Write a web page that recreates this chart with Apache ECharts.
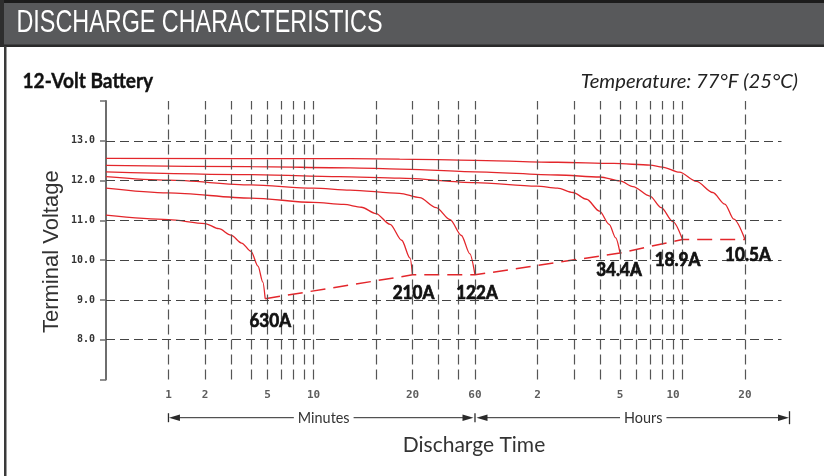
<!DOCTYPE html>
<html><head><meta charset="utf-8">
<script src="https://cdn.jsdelivr.net/npm/echarts@6/dist/echarts.min.js"></script>
<style>html,body{margin:0;padding:0;background:#fff}#c{width:824px;height:476px}</style>
</head><body><div id="c"></div>
<script>
// ---- data (x = discharge time in minutes, y = terminal voltage in volts) ----
const curveNames = ['630A', '210A', '122A', '34.4A', '18.9A', '10.5A'];
const curve630 = [[1,11.13],[2,11.02],[3,10.92],[3.5,10.79],[4,10.63],[4.5,10.43],[5,10.22],[5.4,9.85],[5.7,9.45],[5.85,9.03]];
const curve210 = [[1,11.81],[2,11.69],[5,11.56],[10,11.45],[14,11.40],[17,11.33],[20,11.17],[23.4,10.90],[26.6,10.50],[29.2,10.05],[30,9.63]];
const curve122 = [[1,12.10],[2,12.01],[5,11.89],[10,11.81],[15,11.76],[26,11.68],[32.5,11.57],[39,11.32],[45.5,11.02],[51.6,10.62],[56.7,10.16],[60,9.63]];
const curve34_4 = [[1,12.22],[5,12.15],[13.4,12.10],[26,12.06],[60,11.95],[119,11.86],[150,11.81],[178,11.70],[207,11.53],[239,11.23],[266,10.90],[286,10.56],[300,10.18]];
const curve18_9 = [[1,12.38],[5,12.35],[15,12.32],[26,12.29],[60,12.22],[150,12.14],[240,12.09],[300,11.99],[346,11.85],[418,11.61],[474,11.32],[539,10.97],[600,10.52]];
const curve10_5 = [[1,12.56],[15,12.55],[26,12.54],[60,12.51],[150,12.46],[280,12.43],[420,12.39],[480,12.34],[580,12.21],[700,11.98],[840,11.70],[960,11.41],[1060,11.03],[1200,10.52]];
const cutoffLine = [[5.85,9.03],[30,9.63],[60,9.63],[300,10.18],[600,10.52],[1200,10.52]];
const gridMinutes = [2,3,4,5,6,7,8,9,10,20,30,40,50,60,120,180,240,300,360,420,480,540,600,1200];
const gridVolts = [8,9,10,11,12,13];
const xLabelMinutes = [2,3,6,10,30,60,120,300,540,1200];
const xLabelTexts = ['1','2','5','10','20','60','2','5','10','20'];

const curves = [curve630, curve210, curve122, curve34_4, curve18_9, curve10_5];
// label placement style (pixels), not data
const labelOffsets = [[5,22],[1,18],[2,18],[-1,17],[-5,21],[3,16]];

const RED = '#e3262b';
const chart = echarts.init(document.getElementById('c'), null, {renderer: 'canvas'});

const series = [];
series.push({
  type: 'line', data: [[1, 7]], symbol: 'none', lineStyle: {opacity: 0}, silent: true, z: 1,
  markLine: {
    silent: true, symbol: ['none', 'none'], label: {show: false}, animation: false,
    data: gridMinutes.map(t => ({xAxis: t, lineStyle: {color: '#555', width: 1.2, type: [10, 5]}}))
      .concat(gridVolts.map(v => ({yAxis: v, lineStyle: {color: '#444', width: 1.2, type: [9, 5]}})))
  }
});
curves.forEach((c, i) => {
  series.push({
    type: 'line', name: curveNames[i], data: c, symbol: 'none', smooth: 0.3, smoothMonotone: 'x',
    lineStyle: {color: RED, width: 1.3}, z: 3, silent: true
  });
});
series.push({
  type: 'line', data: cutoffLine, symbol: 'none',
  lineStyle: {color: RED, width: 1.5, type: [15, 8]}, z: 3, silent: true
});
series.push({
  type: 'scatter', symbolSize: 0, clip: false, z: 4, silent: true,
  data: xLabelMinutes.map((t, i) => ({value: [t, 7], name: xLabelTexts[i]})),
  label: {
    show: true, position: 'bottom', distance: 10, formatter: p => p.name,
    fontFamily: 'DejaVu Sans Mono', fontWeight: 'bold', fontSize: 11, color: '#333'
  }
});

const option = {
  animation: false,
  backgroundColor: '#fff',
  grid: {left: 106, right: 42.5, top: 101, bottom: 96.5, containLabel: false},
  xAxis: {
    type: 'log', logBase: 10, min: 1, max: 1800,
    axisLine: {show: false}, axisTick: {show: false}, axisLabel: {show: false}, splitLine: {show: false}
  },
  yAxis: {
    type: 'value', min: 7, max: 14, interval: 1,
    axisLine: {show: true, lineStyle: {color: '#6e6e6e', width: 2}},
    axisTick: {show: true, length: 6, lineStyle: {color: '#6e6e6e', width: 1.5}},
    axisLabel: {
      margin: 11, fontFamily: 'DejaVu Sans Mono', fontWeight: 'bold', fontSize: 10, color: '#333',
      formatter: v => (v === 7 || v === 14) ? '' : v.toFixed(1)
    },
    splitLine: {show: false}
  },
  series: series
};
chart.setOption(option);

function tw(text, font) {
  const ctx = document.createElement('canvas').getContext('2d');
  ctx.font = font; return ctx.measureText(text).width;
}
const px = v => chart.convertToPixel({xAxisIndex: 0}, v);
const x0 = px(xLabelMinutes[0]);
const x60 = px(60);
const xEnd = px(1800) + 8;
const ay = 417.7;
const ink = '#2a2a2a';
const smallFont = '16px Lato';
const smallScale = 0.9;
const wMin = tw('Minutes', smallFont) * smallScale;
const wHrs = tw('Hours', smallFont) * smallScale;
const cMin = (x0 + x60) / 2 + 2;
const cHrs = (x60 + xEnd) / 2 + 11;

function seg(a, b) { return {type: 'line', shape: {x1: a, y1: ay, x2: b, y2: ay}, style: {stroke: ink, lineWidth: 1}, silent: true}; }
function bar(x, h) { return {type: 'line', shape: {x1: x, y1: ay - h, x2: x, y2: ay + h}, style: {stroke: ink, lineWidth: 1.3}, silent: true}; }
function head(tip, dir) {
  return {type: 'polygon', shape: {points: [[tip, ay], [tip + dir * 11, ay - 3.3], [tip + dir * 11, ay + 3.3]]}, style: {fill: ink}, silent: true};
}
function label(text, cx, cy, font, fill, scaleX, align, strokeW) {
  const style = {text: text, font: font, fill: fill, align: align || 'center', verticalAlign: 'middle'};
  if (strokeW) { style.stroke = fill; style.lineWidth = strokeW; }
  return {type: 'text', x: cx, y: cy, scaleX: scaleX || 1, silent: true, style: style};
}

// current labels at each curve's end point (position from the axes' scales)
const endLabels = curves.map((c, i) => {
  const p = chart.convertToPixel({gridIndex: 0}, c[c.length - 1]);
  return Object.assign(label(curveNames[i], p[0] + labelOffsets[i][0], p[1] + labelOffsets[i][1],
    'bold 18px Lato', '#111', 0.95, 'center', 0.7), {z: 10});
});

const graphics = [
  {type: 'rect', shape: {x: 0, y: 0, width: 824, height: 46}, style: {fill: '#58595b'}, silent: true},
  {type: 'rect', shape: {x: 0, y: 0, width: 824, height: 3}, style: {fill: '#1c1c1c'}, silent: true},
  {type: 'rect', shape: {x: 0, y: 44.5, width: 824, height: 2.5}, style: {fill: '#2a2a2a'}, silent: true},
  {type: 'rect', shape: {x: 0, y: 0, width: 4, height: 46}, style: {fill: '#2e2e2e'}, silent: true},
  {type: 'rect', shape: {x: 4, y: 46, width: 2.5, height: 430}, style: {fill: '#3a3a3a'}, silent: true},
  label('DISCHARGE CHARACTERISTICS', 16.5, 23.5, 'normal 32px "Liberation Sans"', '#ffffff', 0.73, 'left'),
  label('12-Volt Battery', 22.5, 81.5, 'bold 21px Lato', '#111', 0.91, 'left', 0.4),
  label('Temperature: 77°F (25°C)', 798, 82, 'italic 20px Lato', '#222', 1.01, 'right'),
  {type: 'text', x: 52, y: 251.7, rotation: Math.PI / 2, silent: true,
    style: {text: 'Terminal Voltage', font: '22px "Liberation Sans"', fill: '#333', align: 'center', verticalAlign: 'middle'}},
  label('Discharge Time', 474, 445, '21px Lato', '#333', 1, 'center'),
  bar(x0, 4.5), head(x0 + 0.5, 1), seg(x0 + 11, cMin - wMin / 2 - 4),
  label('Minutes', cMin - wMin / 2, ay, smallFont, '#333', smallScale, 'left'),
  seg(cMin + wMin / 2 + 4, x60 - 12), head(x60 - 1.5, -1), bar(x60, 4.5), head(x60 + 1.5, 1),
  seg(x60 + 12, cHrs - wHrs / 2 - 4),
  label('Hours', cHrs - wHrs / 2, ay, smallFont, '#333', smallScale, 'left'),
  seg(cHrs + wHrs / 2 + 4, xEnd - 11), head(xEnd - 0.5, -1), bar(xEnd, 6.5)
].concat(endLabels);
chart.setOption({graphic: graphics});
</script>
</body></html>
